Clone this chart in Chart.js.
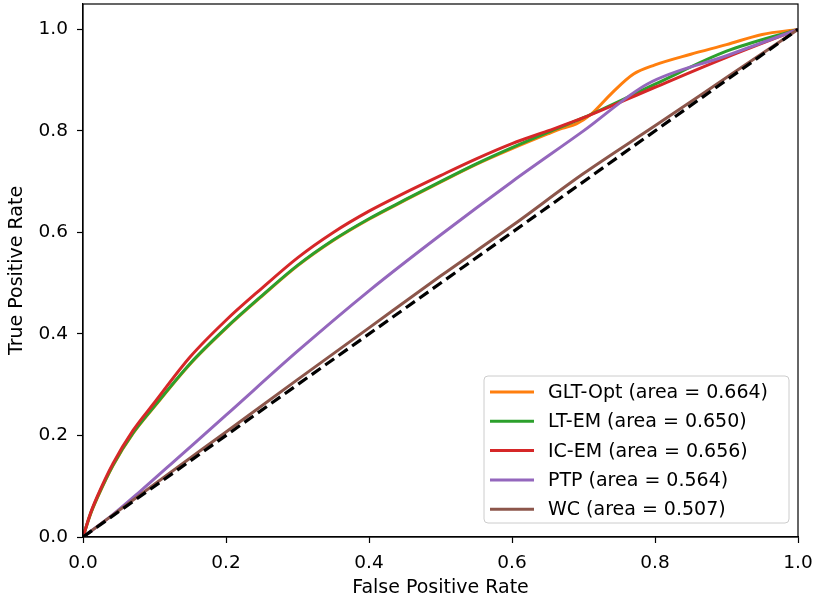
<!DOCTYPE html>
<html>
<head>
<meta charset="utf-8">
<script src="https://cdn.jsdelivr.net/npm/chart.js@4.4.1/dist/chart.umd.min.js"></script>
<style>
  html, body { margin: 0; padding: 0; background: #fff; }
  #wrap { width: 816px; height: 596px; }
</style>
</head>
<body>
<div id="wrap"><canvas id="roc" width="816" height="596"></canvas></div>
<script>
// ROC curves, values as [fpr, tpr] pairs
const names = ['GLT-Opt', 'LT-EM', 'IC-EM', 'PTP', 'WC'];
const areas = ['0.664', '0.650', '0.656', '0.564', '0.507'];
const colors = ['#ff7f0e', '#2ca02c', '#d62728', '#9467bd', '#8c564b'];

const gltOpt = [[0, 0], [0.01, 0.043], [0.02, 0.077], [0.042, 0.141], [0.07, 0.204], [0.1, 0.257],
  [0.15, 0.341], [0.2, 0.411], [0.25, 0.474], [0.3, 0.534], [0.35, 0.584], [0.4, 0.626],
  [0.45, 0.663], [0.5, 0.699], [0.55, 0.734], [0.6, 0.765], [0.65, 0.794], [0.67, 0.805],
  [0.69, 0.814], [0.71, 0.832], [0.74, 0.875], [0.77, 0.912], [0.8, 0.93], [0.85, 0.951],
  [0.9, 0.97], [0.95, 0.99], [1, 1]];
const ltEm = [[0, 0], [0.01, 0.044], [0.02, 0.078], [0.042, 0.142], [0.07, 0.205], [0.1, 0.258],
  [0.15, 0.342], [0.2, 0.412], [0.25, 0.475], [0.3, 0.535], [0.35, 0.585], [0.4, 0.627],
  [0.45, 0.664], [0.5, 0.7], [0.55, 0.735], [0.6, 0.767], [0.65, 0.797], [0.7, 0.826],
  [0.8, 0.892], [0.9, 0.957], [1, 1]];
const icEm = [[0, 0], [0.01, 0.045], [0.02, 0.08], [0.042, 0.145], [0.07, 0.21], [0.1, 0.265],
  [0.15, 0.355], [0.2, 0.427], [0.25, 0.49], [0.3, 0.55], [0.35, 0.6], [0.4, 0.642],
  [0.45, 0.678], [0.5, 0.712], [0.55, 0.745], [0.6, 0.775], [0.65, 0.8], [0.7, 0.826],
  [0.8, 0.886], [0.9, 0.945], [1, 1]];
const ptp = [[0, 0], [0.04, 0.042], [0.08, 0.09], [0.136, 0.16], [0.2, 0.24], [0.3, 0.366],
  [0.4, 0.485], [0.5, 0.595], [0.6, 0.7], [0.7, 0.8], [0.79, 0.893], [0.9, 0.948], [1, 1]];
const wc = [[0, 0], [0.1, 0.104], [0.2, 0.207], [0.3, 0.31], [0.4, 0.412], [0.5, 0.514],
  [0.6, 0.613], [0.7, 0.716], [0.8, 0.81], [0.9, 0.905], [1, 1]];
const chance = [[0, 0], [1, 1]];

const xTicks = [0, 0.2, 0.4, 0.6, 0.8, 1.0];
const yTicks = [0, 0.2, 0.4, 0.6, 0.8, 1.0];

const curves = [gltOpt, ltEm, icEm, ptp, wc];
const FONT = 'DejaVu Sans';

function toPts(arr) {
  return arr.map(p => ({ x: p[0], y: p[1] }));
}

const datasets = curves.map((c, i) => ({
  label: names[i] + ' (area = ' + areas[i] + ')',
  data: toPts(c),
  borderColor: colors[i],
  borderWidth: 3,
  cubicInterpolationMode: 'monotone',
  order: 10 - i,
}));
datasets.push({
  label: 'chance',
  data: toPts(chance),
  borderColor: '#000',
  borderWidth: 3.2,
  borderDash: [11, 5.5],
  order: 0,
});

// top/right spines like matplotlib
const frame = {
  id: 'frame',
  afterDatasetsDraw(chart) {
    const { ctx, chartArea: a } = chart;
    ctx.save();
    ctx.strokeStyle = '#000';
    ctx.lineWidth = 1.2;
    ctx.strokeRect(a.left, a.top, a.right - a.left, a.bottom - a.top);
    ctx.restore();
  }
};

// legend box in the lower right corner
const boxLegend = {
  id: 'boxLegend',
  afterDraw(chart) {
    const ctx = chart.ctx;
    const a = chart.chartArea;
    const w = 305, h = 147;
    const x = a.right - 9 - w, y = a.bottom - 14 - h;
    ctx.save();
    ctx.beginPath();
    ctx.roundRect(x, y, w, h, 4);
    ctx.fillStyle = 'rgba(255,255,255,0.8)';
    ctx.fill();
    ctx.strokeStyle = '#cccccc';
    ctx.lineWidth = 1;
    ctx.stroke();
    ctx.font = '19px "' + FONT + '"';
    ctx.textBaseline = 'middle';
    ctx.fillStyle = '#000';
    for (let i = 0; i < names.length; i++) {
      const ds = chart.data.datasets[i];
      const ry = y + 16 + i * 29.3;
      ctx.beginPath();
      ctx.moveTo(x + 6, ry);
      ctx.lineTo(x + 50, ry);
      ctx.strokeStyle = ds.borderColor;
      ctx.lineWidth = 3;
      ctx.stroke();
      ctx.fillText(ds.label, x + 64, ry + 1);
    }
    ctx.restore();
  }
};

new Chart(document.getElementById('roc'), {
  type: 'scatter',
  data: { datasets: datasets },
  options: {
    responsive: false,
    animation: false,
    showLine: true,
    layout: { padding: { left: 0, right: 18, top: 4, bottom: 0 } },
    elements: { point: { radius: 0 }, line: { tension: 0, fill: false } },
    plugins: { legend: { display: false }, tooltip: { enabled: false } },
    scales: {
      x: {
        type: 'linear',
        min: 0,
        max: 1,
        afterBuildTicks: s => { s.ticks = xTicks.map(v => ({ value: v })); },
        afterFit: s => { s.height = 59; s.paddingLeft = 0; s.paddingRight = 0; },
        grid: { drawOnChartArea: false, drawTicks: true, tickLength: 6, color: '#000', tickWidth: 1.2 },
        border: { display: true, color: '#000', width: 1.2 },
        ticks: { color: '#000', padding: 9, font: { family: FONT, size: 18.5 }, maxRotation: 0,
          callback: v => v.toFixed(1) },
        title: { display: true, text: 'False Positive Rate', color: '#000',
          font: { family: FONT, size: 19, lineHeight: 0.8 }, padding: { top: 0, bottom: 0 } }
      },
      y: {
        type: 'linear',
        min: 0,
        max: 1.05,
        afterBuildTicks: s => { s.ticks = yTicks.map(v => ({ value: v })); },
        afterFit: s => { s.width = 83; s.paddingTop = 0; s.paddingBottom = 0; },
        grid: { drawOnChartArea: false, drawTicks: true, tickLength: 6, color: '#000', tickWidth: 1.2 },
        border: { display: true, color: '#000', width: 1.2 },
        ticks: { color: '#000', padding: 9, font: { family: FONT, size: 18.5 },
          callback: v => v.toFixed(1) },
        title: { display: true, text: 'True Positive Rate', color: '#000',
          font: { family: FONT, size: 19, lineHeight: 1 }, padding: { top: 8, bottom: 0 } }
      }
    }
  },
  plugins: [frame, boxLegend]
});
</script>
</body>
</html>
